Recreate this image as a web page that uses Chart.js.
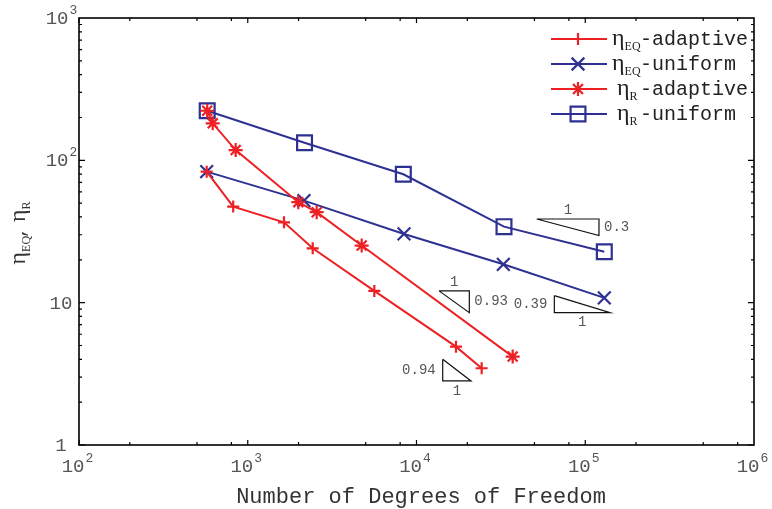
<!DOCTYPE html>
<html>
<head>
<meta charset="utf-8">
<script src="https://cdn.jsdelivr.net/npm/chart.js@4.4.0/dist/chart.umd.min.js"></script>
<style>
  body { margin: 0; background: #fff; }
  #wrap { width: 772px; height: 509px; position: relative; }
</style>
</head>
<body>
<div id="wrap"><canvas id="chart"></canvas></div>
<script>
// tick labels (exponents of 10)
const xExp = [2, 3, 4, 5, 6];
const yExp = [0, 1, 2, 3];

// eta_EQ adaptive
const eqAdaptDof = [571, 820, 1640, 2426, 5623, 17140, 24330];
const eqAdaptVal = [83.3, 47.3, 36.7, 24.1, 12.1, 4.91, 3.46];
// eta_EQ uniform
const eqUnifDof = [571, 2154, 8433, 32700, 129700];
const eqUnifVal = [83.3, 52.1, 30.4, 18.6, 10.8];
// eta_R adaptive
const rAdaptDof = [575, 620, 848, 1993, 2561, 4733, 37150];
const rAdaptVal = [223, 182, 118, 50.8, 43.2, 25.2, 4.18];
// eta_R uniform
const rUnifDof = [575, 2170, 8356, 33000, 129700];
const rUnifVal = [223, 133, 79.8, 34.2, 22.8];

// slope triangles: vertices and the slope text
const triangles = [
  [[51560, 38.7], [120600, 38.7], [120600, 29.6]],
  [[13600, 12.1], [20560, 12.1], [20560, 8.51]],
  [[65600, 11.2], [65600, 8.51], [140300, 8.51]],
  [[14300, 4.0], [14300, 2.82], [21040, 2.82]]
];
const slopeText = ['0.3', '0.93', '0.39', '0.94'];

const RED = 'rgb(237,32,36)';
const BLUE = 'rgb(46,49,146)';
const MONO = '"Liberation Mono", "DejaVu Sans Mono", monospace';
const SERIF = '"Liberation Serif", "DejaVu Serif", serif';

const zip = (xs, ys) => xs.map((x, i) => ({ x: x, y: ys[i] }));

const series = [
  { label: 'adaptive', sub: 'EQ', dof: eqAdaptDof, val: eqAdaptVal, color: RED, style: 'cross', r: 6, order: 0 },
  { label: 'uniform', sub: 'EQ', dof: eqUnifDof, val: eqUnifVal, color: BLUE, style: 'crossRot', r: 9, order: 1 },
  { label: 'adaptive', sub: 'R', dof: rAdaptDof, val: rAdaptVal, color: RED, style: 'star', r: 7, order: 0 },
  { label: 'uniform', sub: 'R', dof: rUnifDof, val: rUnifVal, color: BLUE, style: 'rect', r: 10.5, order: 1 }
];

const datasets = series.map(s => ({
  label: s.label,
  data: zip(s.dof, s.val),
  showLine: true,
  borderColor: s.color,
  borderWidth: 2,
  pointStyle: s.style,
  pointRadius: s.r,
  pointBorderColor: s.color,
  pointBackgroundColor: 'rgba(0,0,0,0)',
  pointBorderWidth: 2.2,
  order: s.order
}));

triangles.forEach(t => {
  datasets.push({
    label: 'slope',
    data: t.concat([t[0]]).map(p => ({ x: p[0], y: p[1] })),
    showLine: true,
    borderColor: '#111',
    borderWidth: 1.2,
    pointRadius: 0,
    order: 2
  });
});

function drawPow(ctx, exp, cx, baseY, size, supSize) {
  if (exp === 0 || exp === 1) {
    const t = exp === 0 ? '1' : '10';
    ctx.font = size + 'px ' + MONO;
    ctx.textAlign = 'center';
    ctx.fillText(t, cx, baseY);
    return;
  }
  ctx.font = size + 'px ' + MONO;
  const w1 = ctx.measureText('10').width;
  ctx.font = supSize + 'px ' + MONO;
  const w2 = ctx.measureText(String(exp)).width;
  const left = cx - (w1 + w2) / 2;
  ctx.textAlign = 'left';
  ctx.font = size + 'px ' + MONO;
  ctx.fillText('10', left, baseY);
  ctx.font = supSize + 'px ' + MONO;
  ctx.fillText(String(exp), left + w1 + 1, baseY - 10);
}

// eta with subscript, returns end x
function drawEta(ctx, x, y, sub, etaSize, subSize) {
  ctx.textAlign = 'left';
  ctx.font = etaSize + 'px ' + SERIF;
  ctx.fillText('\u03b7', x, y);
  const w = ctx.measureText('\u03b7').width;
  ctx.font = subSize + 'px ' + SERIF;
  ctx.fillText(sub, x + w, y + 5);
  return x + w + ctx.measureText(sub).width;
}

const decor = {
  id: 'decor',
  afterDraw(chart) {
    const ctx = chart.ctx;
    const a = chart.chartArea;
    const xs = chart.scales.x, ys = chart.scales.y;
    ctx.save();

    // frame
    ctx.strokeStyle = '#000';
    ctx.lineWidth = 1.6;
    ctx.strokeRect(a.left, a.top, a.right - a.left, a.bottom - a.top);

    // y ticks (left and right, inward)
    ctx.lineWidth = 1.2;
    ctx.beginPath();
    for (let e = 0; e < 3; e++) {
      for (let m = 1; m <= 9; m++) {
        const py = ys.getPixelForValue(m * Math.pow(10, e));
        const len = m === 1 ? 6 : 3;
        ctx.moveTo(a.left, py); ctx.lineTo(a.left + len, py);
        ctx.moveTo(a.right, py); ctx.lineTo(a.right - len, py);
      }
    }
    // x ticks (bottom and top, inward)
    for (let e = 2; e < 6; e++) {
      [1, 2, 5, 8].forEach(m => {
        const px = xs.getPixelForValue(m * Math.pow(10, e));
        const len = m === 1 ? 5 : 3;
        ctx.moveTo(px, a.bottom); ctx.lineTo(px, a.bottom - len);
        ctx.moveTo(px, a.top); ctx.lineTo(px, a.top + len);
      });
    }
    ctx.stroke();

    // tick labels
    ctx.fillStyle = '#555';
    ctx.textBaseline = 'alphabetic';
    xExp.forEach(e => {
      drawPow(ctx, e, xs.getPixelForValue(Math.pow(10, e)) - 2, a.bottom + 27, 19, 13);
    });
    yExp.forEach(e => {
      drawPow(ctx, e, 61, ys.getPixelForValue(Math.pow(10, e)) + 6, 19, 13);
    });

    // axis titles
    ctx.fillStyle = '#333';
    ctx.font = '22px ' + MONO;
    ctx.textAlign = 'center';
    ctx.fillText('Number of Degrees of Freedom', 421, a.bottom + 58);

    ctx.save();
    ctx.translate(25, (a.top + a.bottom) / 2);
    ctx.rotate(-Math.PI / 2);
    let x0 = -33;
    x0 = drawEta(ctx, x0, 0, 'EQ', 24, 12);
    ctx.font = '18px ' + MONO;
    ctx.fillText(',', x0 - 2, 0);
    x0 += 14;
    drawEta(ctx, x0, 0, 'R', 24, 12);
    ctx.restore();

    // slope triangle labels
    ctx.fillStyle = '#555';
    ctx.font = '14px ' + MONO;
    ctx.textBaseline = 'middle';
    triangles.forEach((t, i) => {
      const p = t.map(v => [xs.getPixelForValue(v[0]), ys.getPixelForValue(v[1])]);
      // horizontal leg: pair with equal y; vertical leg: pair with equal x
      let hor, ver;
      for (let j = 0; j < 3; j++) {
        for (let k = j + 1; k < 3; k++) {
          if (Math.abs(p[j][1] - p[k][1]) < 0.5) hor = [p[j], p[k]];
          if (Math.abs(p[j][0] - p[k][0]) < 0.5) ver = [p[j], p[k]];
        }
      }
      const hy = hor[0][1];
      const vx = ver[0][0];
      const midX = (hor[0][0] + hor[1][0]) / 2;
      const midY = (ver[0][1] + ver[1][1]) / 2;
      const legTop = hy < Math.max(ver[0][1], ver[1][1]) - 0.5;
      ctx.textAlign = 'center';
      ctx.fillText('1', midX, legTop ? hy - 9 : hy + 10);
      const vRight = vx >= Math.max(hor[0][0], hor[1][0]) - 0.5;
      ctx.textAlign = vRight ? 'left' : 'right';
      ctx.fillText(slopeText[i], vRight ? vx + 5 : vx - 7, midY);
    });

    // legend
    ctx.textBaseline = 'alphabetic';
    series.forEach((s, i) => {
      const y = 39 + i * 25;
      ctx.strokeStyle = s.color;
      ctx.fillStyle = 'rgba(0,0,0,0)';
      ctx.lineWidth = 2;
      ctx.beginPath();
      ctx.moveTo(551, y); ctx.lineTo(607, y);
      ctx.stroke();
      ctx.lineWidth = 2.2;
      Chart.helpers.drawPoint(ctx, { pointStyle: s.style, radius: s.r, borderWidth: 2.2 }, 578, y);
      ctx.fillStyle = '#222';
      const sx = s.sub === 'R' ? 617 : 612;
      drawEta(ctx, sx, y + 6, s.sub, 24, 12);
      ctx.font = '20px ' + MONO;
      ctx.textAlign = 'left';
      ctx.fillText('-' + s.label, 640, y + 6);
    });

    ctx.restore();
  }
};

new Chart(document.getElementById('chart'), {
  type: 'scatter',
  data: { datasets: datasets },
  options: {
    responsive: true,
    maintainAspectRatio: false,
    animation: false,
    events: [],
    layout: { padding: { left: 79, right: 18, top: 18, bottom: 64 } },
    plugins: { legend: { display: false }, tooltip: { enabled: false } },
    scales: {
      x: { type: 'logarithmic', min: 100, max: 1e6, display: false },
      y: { type: 'logarithmic', min: 1, max: 1000, display: false }
    }
  },
  plugins: [decor]
});
</script>
</body>
</html>
